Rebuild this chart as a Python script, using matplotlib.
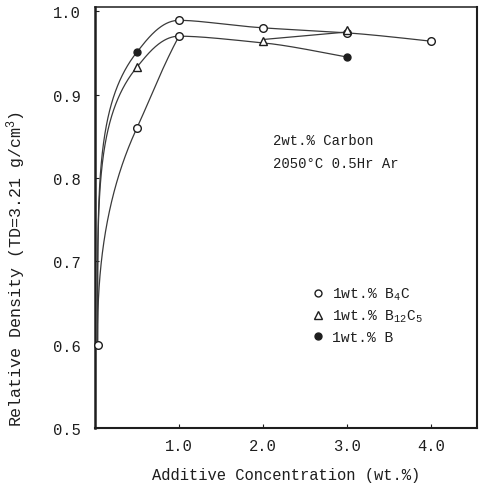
import numpy as np
import matplotlib
matplotlib.use("Agg")
import matplotlib.pyplot as plt
from matplotlib.lines import Line2D

# Measured relative densities, grouped by the symbol used for each point
circle_x = [0.03, 0.5, 1.0, 1.0, 2.0, 3.0, 4.0]
circle_y = [0.600, 0.860, 0.989, 0.970, 0.980, 0.974, 0.964]
triangle_x = [0.5, 2.0, 3.0]
triangle_y = [0.933, 0.964, 0.978]
filled_x = [0.5, 3.0]
filled_y = [0.951, 0.945]

# Hand-drawn trend curves through the points
upper_x = [0.03, 0.5, 1.0, 2.0, 3.0, 4.0]
upper_y = [0.600, 0.951, 0.989, 0.980, 0.974, 0.964]
middle_x = [0.03, 0.5, 1.0, 2.0, 3.0]
middle_y = [0.600, 0.933, 0.970, 0.962, 0.945]
lower_x = [0.03, 0.5, 1.0]
lower_y = [0.600, 0.860, 0.970]
branch_x = [2.0, 3.0]
branch_y = [0.966, 0.975]

legend_labels = ["1wt.% B$_4$C", "1wt.% B$_{12}$C$_5$", "1wt.% B"]
x_ticks = [1.0, 2.0, 3.0, 4.0]
y_ticks = [0.5, 0.6, 0.7, 0.8, 0.9, 1.0]

MONO = "Liberation Mono"
INK = "#1e1e1e"
plt.rcParams["font.family"] = [MONO, "DejaVu Sans Mono"]
plt.rcParams["mathtext.fontset"] = "custom"
plt.rcParams["mathtext.rm"] = MONO
plt.rcParams["mathtext.it"] = MONO
plt.rcParams["mathtext.bf"] = MONO


def pchip(x, y, xn):
    x = np.asarray(x, float)
    y = np.asarray(y, float)
    h = np.diff(x)
    d = np.diff(y) / h
    n = len(x)
    m = np.zeros(n)
    if n == 2:
        m[:] = d[0]
    else:
        for k in range(1, n - 1):
            if d[k - 1] * d[k] > 0:
                w1 = 2 * h[k] + h[k - 1]
                w2 = h[k] + 2 * h[k - 1]
                m[k] = (w1 + w2) / (w1 / d[k - 1] + w2 / d[k])
        m0 = ((2 * h[0] + h[1]) * d[0] - h[0] * d[1]) / (h[0] + h[1])
        if np.sign(m0) != np.sign(d[0]):
            m0 = 0.0
        elif np.sign(d[0]) != np.sign(d[1]) and abs(m0) > abs(3 * d[0]):
            m0 = 3 * d[0]
        m[0] = m0
        me = ((2 * h[-1] + h[-2]) * d[-1] - h[-1] * d[-2]) / (h[-1] + h[-2])
        if np.sign(me) != np.sign(d[-1]):
            me = 0.0
        elif np.sign(d[-1]) != np.sign(d[-2]) and abs(me) > abs(3 * d[-1]):
            me = 3 * d[-1]
        m[-1] = me
    idx = np.clip(np.searchsorted(x, xn) - 1, 0, n - 2)
    t = (xn - x[idx]) / h[idx]
    h00 = 2 * t**3 - 3 * t**2 + 1
    h10 = t**3 - 2 * t**2 + t
    h01 = -2 * t**3 + 3 * t**2
    h11 = t**3 - t**2
    return h00 * y[idx] + h10 * h[idx] * m[idx] + h01 * y[idx + 1] + h11 * h[idx] * m[idx + 1]


def smooth_curve(xs, ys, p=0.28):
    """Monotone spline drawn in a compressed x scale so the steep rise is kept."""
    xs = np.asarray(xs, float)
    if len(xs) == 2:
        return xs, np.asarray(ys, float)
    u = (xs - xs[0]) ** p
    un = np.linspace(0, u[-1], 600)
    return xs[0] + un ** (1 / p), pchip(u, ys, un)


fig = plt.figure(figsize=(4.85, 4.85), dpi=100)
ax = fig.add_axes([95 / 485, 56 / 485, 382 / 485, 421 / 485])

for cx, cy in [(upper_x, upper_y), (middle_x, middle_y), (lower_x, lower_y), (branch_x, branch_y)]:
    sx, sy = smooth_curve(cx, cy)
    ax.plot(sx, sy, color="#3a3a3a", lw=0.9, zorder=2)

ax.plot(circle_x, circle_y, ls="none", marker="o", ms=5.5, mfc="white", mec=INK, mew=1.0,
        zorder=3, clip_on=False)
ax.plot(triangle_x, triangle_y, ls="none", marker="^", ms=5.5, mfc="white", mec=INK, mew=1.0,
        zorder=3)
ax.plot(filled_x, filled_y, ls="none", marker="o", ms=5.0, mfc=INK, mec=INK, mew=1.0,
        zorder=4)

ax.set_xlim(0, 4.55)
ax.set_ylim(0.5, 1.005)
ax.set_xticks(x_ticks)
ax.set_xticklabels([f"{v:.1f}" for v in x_ticks])
ax.set_yticks(y_ticks)
ax.set_yticklabels([f"{v:.1f}" for v in y_ticks])
ax.tick_params(direction="in", length=3, width=0.8, colors=INK, labelsize=11.2)
ax.tick_params(axis="y", pad=10)
ax.tick_params(axis="x", pad=7)

for side, lw in [("left", 1.8), ("bottom", 1.5), ("top", 1.1), ("right", 1.5)]:
    ax.spines[side].set_linewidth(lw)
    ax.spines[side].set_color(INK)

ax.set_xlabel("Additive Concentration (wt.%)", fontsize=11.2, color=INK, labelpad=10)
ax.set_ylabel("Relative Density (TD=3.21 g/cm$^3$)", fontsize=12, color=INK)
ax.yaxis.set_label_coords(-0.175, 0.38)

ax.text(0.465, 0.675, "2wt.% Carbon", transform=ax.transAxes, fontsize=10, color=INK)
ax.text(0.465, 0.62, "2050\u00b0C 0.5Hr Ar", transform=ax.transAxes, fontsize=10, color=INK)

handles = [
    Line2D([], [], ls="none", marker="o", ms=5.0, mfc="white", mec=INK, mew=1.0),
    Line2D([], [], ls="none", marker="^", ms=5.5, mfc="white", mec=INK, mew=1.0),
    Line2D([], [], ls="none", marker="o", ms=5.0, mfc=INK, mec=INK),
]
leg = ax.legend(handles, legend_labels, loc="upper left", bbox_to_anchor=(0.545, 0.355),
                frameon=False, fontsize=10.5, handlelength=1.0, handletextpad=0.5,
                labelspacing=0.4, borderpad=0.0)
for t in leg.get_texts():
    t.set_color(INK)

fig.savefig("out.png", dpi=100, facecolor="white")
